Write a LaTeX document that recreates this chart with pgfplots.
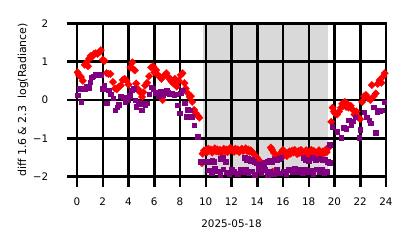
\documentclass[border=0pt]{standalone}
\usepackage{pgfplots}
\pgfplotsset{compat=1.18}
\usepackage{fontspec}
\setmainfont{DejaVu Sans}
\definecolor{mpurple}{RGB}{128,0,128}
\begin{document}
\begin{tikzpicture}
\path[use as bounding box] (0,0) rectangle (298.08bp,178.56bp);
\begin{axis}[
  at={(55.44bp,51.34bp)}, anchor=south west,
  scale only axis, width=222.48bp, height=110.45bp,
  xmin=0, xmax=24, ymin=-2, ymax=2,
  xtick={0,2,...,24}, ytick={-2,-1,0,1,2},
  yticklabels={\textminus2,\textminus1,0,1,2},
  grid=major, grid style={black, line width=1.8bp},
  axis line style={black, line width=1.8bp},
  major tick style={black, line width=1.8bp},
  major tick length=7.2bp,
  tick align=outside, tick pos=left,
  axis on top,
  /pgf/number format/assume math mode=true,
  ticklabel style={font=\fontsize{7.5}{9}\selectfont},
  xticklabel style={yshift=-4.3bp},
  yticklabel style={xshift=-10bp},
  label style={font=\fontsize{7.5}{9}\selectfont},
  xlabel={2025-05-18},
  ylabel={diff 1.6 \& 2.3\ \ log(Radiance)},
  xlabel style={at={(axis description cs:0.5,0)}, anchor=north, yshift=-27.2bp},
  ylabel style={at={(axis description cs:-0.1748,0.5)}, anchor=center, font=\fontsize{7.9}{9}\selectfont},
  clip=true,
]
% red series
\addplot[only marks, color=red, mark=square*, mark size=1.95pt, mark options={rotate=45, fill=red, draw=red, line width=0.1pt}] coordinates {
(0.05,0.72)(0.15,0.65)(0.3,0.6)(0.45,0.5)(0.6,0.92)(0.75,0.98)(0.85,0.88)(0.95,1.08)(1.05,1.15)(1.15,1.12)
(1.3,1.2)(1.45,1.22)(1.6,1.2)(1.75,1.25)(1.85,1.3)(2.0,1.05)(2.15,1.02)(2.3,0.7)(2.45,0.68)(2.6,0.68)
(2.8,0.47)(2.95,0.3)(3.1,0.28)(3.25,0.35)(3.4,0.38)(3.55,0.52)(3.7,0.55)(3.85,0.5)(4.0,0.4)(4.15,0.85)
(4.3,0.98)(4.4,0.8)(4.5,0.77)(4.6,0.43)(4.75,0.28)(4.9,0.2)(5.05,0.08)(5.15,0.2)(5.3,0.38)(5.45,0.45)
(5.6,0.62)(5.75,0.85)(5.9,0.88)(6.0,0.72)(6.15,0.78)(6.3,0.65)(6.45,0.6)(6.55,0.55)(6.65,0.0)(6.8,0.65)
(6.95,0.7)(7.05,0.6)(7.2,0.57)(7.3,0.5)(7.4,0.46)(7.5,0.43)(7.6,0.55)(7.75,0.35)(7.9,0.5)(8.05,0.65)
(8.2,0.7)(8.35,0.44)(8.45,0.3)(8.6,0.18)(8.75,0.08)(8.85,0.1)(8.95,-0.05)(9.1,-0.26)(9.25,-0.35)(9.4,-0.42)
(9.5,-0.46)(9.7,-1.65)(9.75,-1.4)(9.85,-1.32)
(10.0,-1.30)(10.1,-1.36)(10.2,-1.27)(10.3,-1.32)(10.4,-1.29)(10.5,-1.37)(10.6,-1.31)(10.7,-1.26)(10.8,-1.34)(10.9,-1.29)
(11.0,-1.35)(11.1,-1.30)(11.2,-1.38)(11.3,-1.32)(11.4,-1.27)(11.5,-1.34)(11.6,-1.29)(11.7,-1.36)(11.8,-1.30)(11.9,-1.25)
(12.0,-1.31)(12.1,-1.29)(12.2,-1.35)(12.3,-1.27)(12.4,-1.32)(12.5,-1.29)(12.6,-1.36)(12.7,-1.31)(12.8,-1.27)(12.9,-1.33)
(13.0,-1.30)(13.1,-1.26)(13.2,-1.33)(13.3,-1.29)(13.4,-1.35)(13.5,-1.31)(13.6,-1.36)(13.7,-1.40)(13.8,-1.44)(13.9,-1.48)
(14.0,-1.52)(14.1,-1.57)(14.2,-1.60)(14.35,-1.80)(15.05,-1.24)(15.15,-1.30)(15.2,-1.87)(15.3,-1.38)(15.45,-1.47)(15.6,-1.50)
(15.75,-1.42)(15.9,-1.35)(16.0,-1.30)(16.1,-1.44)(16.2,-1.40)(16.3,-1.46)(16.4,-1.38)(16.5,-1.34)(16.6,-1.40)(16.7,-1.32)
(16.8,-1.37)(16.9,-1.30)(17.0,-1.35)(17.1,-1.41)(17.2,-1.33)(17.3,-1.38)(17.4,-1.30)(17.5,-1.36)(17.6,-1.42)(17.7,-1.35)
(17.8,-1.31)(17.9,-1.38)(18.0,-1.44)(18.1,-1.36)(18.2,-1.30)(18.3,-1.37)(18.4,-1.33)(18.5,-1.40)(18.6,-1.45)(18.7,-1.36)
(18.8,-1.31)(18.9,-1.38)(19.0,-1.42)(19.1,-1.34)(19.2,-1.39)(19.3,-1.30)(19.4,-1.36)(19.5,-1.25)(19.6,-1.22)
(19.75,-0.57)(19.85,-0.2)(19.95,-0.3)(20.05,-0.35)(20.2,-0.38)(20.35,-0.3)(20.5,-0.2)(20.6,-0.1)(20.7,-0.15)(20.8,-0.05)
(20.9,-0.18)(21.0,-0.1)(21.1,-0.2)(21.25,-0.15)(21.4,-0.25)(21.55,-0.38)(21.7,-0.3)(21.85,-0.45)(22.0,-0.5)(22.15,-0.05)
(22.3,0.1)(22.45,0.13)(22.6,0.05)(22.8,0.0)(22.9,0.39)(23.05,0.1)(23.2,0.17)(23.35,0.42)(23.5,0.52)(23.65,0.45)
(23.8,0.62)(23.9,0.7)
};
% purple series
\addplot[only marks, color=mpurple, mark=square*, mark size=1.65pt, mark options={fill=mpurple, draw=mpurple, line width=0.1pt}] coordinates {
(0.05,0.13)(0.15,0.3)(0.3,-0.05)(0.45,0.28)(0.6,0.3)(0.75,0.35)(0.9,0.33)(1.0,0.47)(1.15,0.6)(1.25,0.62)
(1.4,0.67)(1.55,0.68)(1.7,0.67)(1.85,0.65)(2.0,0.3)(2.1,0.38)(2.3,-0.08)(2.45,0.26)(2.6,0.15)(2.8,0.05)
(2.95,-0.26)(3.1,-0.18)(3.25,-0.12)(3.4,0.1)(3.6,0.08)(3.75,-0.05)(3.95,0.0)(4.1,0.12)(4.25,0.26)(4.4,0.3)
(4.5,0.0)(4.6,-0.17)(4.75,-0.05)(4.85,-0.1)(5.0,-0.26)(5.15,-0.1)(5.3,-0.13)(5.45,-0.08)(5.6,0.15)(5.75,0.34)
(5.9,0.3)(6.05,0.2)(6.2,0.18)(6.35,0.12)(6.5,0.22)(6.65,0.13)(6.8,0.2)(6.95,0.24)(7.05,0.2)(7.2,0.17)
(7.4,0.18)(7.55,0.13)(7.7,0.15)(7.8,-0.13)(7.95,-0.34)(8.05,0.18)(8.2,0.26)(8.35,-0.08)(8.5,-0.43)(8.6,-0.25)
(8.75,-0.26)(8.9,-0.43)(9.1,-0.65)(9.35,-0.95)(9.6,-1.6)(9.75,-1.62)
(10.05,-1.6)(10.3,-1.62)(10.5,-1.57)(10.65,-1.6)(11.1,-1.52)(11.3,-1.5)(11.55,-1.6)(13.0,-1.5)(13.15,-1.55)(13.3,-1.53)
(13.45,-1.58)(13.6,-1.56)(13.75,-1.6)(13.9,-1.65)(14.05,-1.68)(14.2,-1.73)(14.5,-1.66)(14.65,-1.62)(14.8,-1.6)(14.95,-1.58)
(15.1,-1.6)(15.3,-1.55)(15.5,-1.57)(15.7,-1.52)(15.85,-1.5)(17.55,-1.5)(17.75,-1.55)(18.0,-1.58)(18.3,-1.5)(18.55,-1.56)
(18.8,-1.52)(19.05,-1.55)(19.25,-1.55)(19.45,-1.6)(19.6,-1.63)(19.6,-1.16)
(10.2,-1.83)(10.45,-1.9)(10.7,-1.78)(10.9,-1.85)(11.1,-1.95)(11.35,-1.8)(11.6,-1.88)(11.8,-1.93)(12.0,-1.8)(12.2,-1.86)
(12.45,-1.92)(12.65,-1.82)(12.9,-1.88)(13.1,-1.8)(13.3,-1.9)(13.55,-1.85)(13.8,-1.94)(14.05,-1.83)(14.3,-1.9)(14.55,-1.82)
(14.8,-1.95)(15.0,-1.87)(15.25,-1.92)(15.5,-1.8)(15.75,-1.9)(16.0,-1.85)(16.25,-1.93)(16.45,-1.82)(16.7,-1.88)(16.9,-1.78)
(17.1,-1.86)(17.3,-1.82)(17.5,-1.9)(17.7,-1.8)(17.95,-1.88)(18.15,-1.84)(18.35,-1.92)(18.6,-1.8)(18.8,-1.87)(19.0,-1.82)
(19.2,-1.9)(19.4,-1.86)
(19.8,-0.7)(20.2,-0.83)(20.5,-0.98)(20.7,-0.72)(20.9,-0.75)(21.1,-0.52)(21.3,-0.65)(21.45,-0.55)(21.6,-0.45)(21.9,-0.98)
(22.0,-0.77)(22.3,-0.31)(22.5,-0.45)(22.7,-0.52)(22.8,-0.6)(23.05,-0.18)(23.2,-0.85)(23.3,-0.31)(23.5,-0.28)(23.7,-0.26)
(23.85,-0.05)
};
% night shading
\addplot[draw=none, fill=gray, fill opacity=0.3] coordinates {(9.8,-2.5) (9.8,2.5) (19.5,2.5) (19.5,-2.5)} -- cycle;
\end{axis}
\end{tikzpicture}
\end{document}
